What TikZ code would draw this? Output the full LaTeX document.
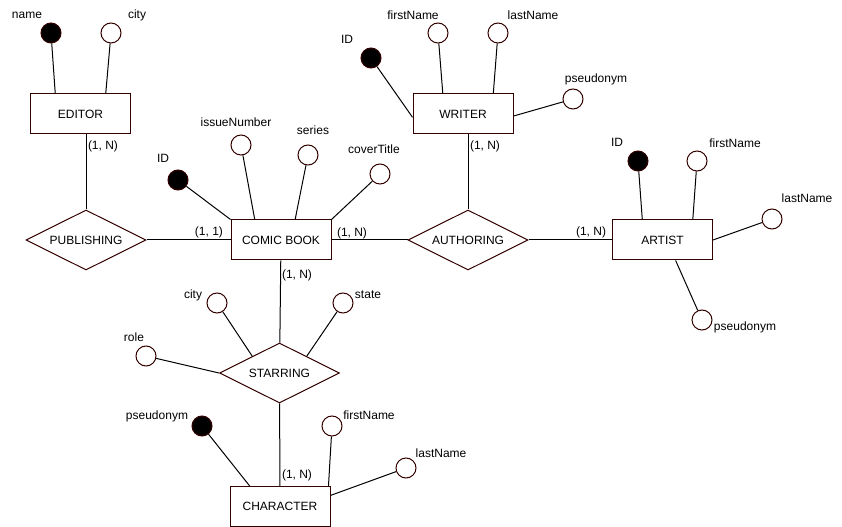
\documentclass[tikz,border=0pt]{standalone}
\usepackage{fontspec}
\setmainfont{Liberation Sans}
\usetikzlibrary{shapes.geometric, calc}
\definecolor{erbrown}{HTML}{330000}

\begin{document}
\begin{tikzpicture}[
    x=0.75pt, y=-0.75pt,
    font=\fontsize{9}{11}\selectfont,
    entity/.style={draw=erbrown, fill=white, line width=0.75pt, minimum width=75pt, minimum height=30pt, inner sep=0pt},
    relation/.style={diamond, draw=erbrown, fill=white, line width=0.75pt, aspect=2, minimum width=90pt, minimum height=45pt, inner sep=0pt},
    attr/.style={circle, draw=erbrown, fill=white, line width=0.75pt, minimum size=15pt, inner sep=0pt},
    keyattr/.style={attr, fill=black},
    link/.style={draw=black, line width=0.75pt},
    lbl/.style={inner sep=1pt}
  ]
    \useasboundingbox (0,0) rectangle (842,527);

    % entities and relationships
    \node[entity] (editor)    at (80.5,114) {EDITOR};
    \node[entity] (comic)     at (281,240)  {COMIC BOOK};
    \node[entity] (writer)    at (463,114)  {WRITER};
    \node[entity] (artist)    at (662.5,240) {ARTIST};
    \node[entity] (character) at (280,506.5) {CHARACTER};
    \node[relation] (publishing) at (86,240)   {PUBLISHING};
    \node[relation] (authoring)  at (468,240)  {AUTHORING};
    \node[relation] (starring)   at (279.5,373) {STARRING};

    % ==========================================
    \node[keyattr] (edName) at (51,33) {};
    \node[attr]    (edCity) at (111,33) {};
    \node[lbl] (edNameL) at (27,15)  {name};
    \node[lbl] (edCityL) at (137,15) {city};

    \node[keyattr] (cbId)     at (178,180) {};
    \node[attr]    (cbIssue)  at (241,145) {};
    \node[attr]    (cbSeries) at (308,155) {};
    \node[attr]    (cbCover)  at (380,174) {};
    \node[lbl] (cbIdL)     at (163,158) {ID};
    \node[lbl] (cbIssueL)  at (236,122) {issueNumber};
    \node[lbl] (cbSeriesL) at (313,130) {series};
    \node[lbl] (cbCoverL)  at (374,149) {coverTitle};

    \node[keyattr] (wrId)     at (371,58) {};
    \node[attr]    (wrFirst)  at (438,33) {};
    \node[attr]    (wrLast)   at (498,33) {};
    \node[attr]    (wrPseudo) at (573,99) {};
    \node[lbl] (wrIdL)     at (347,39)  {ID};
    \node[lbl] (wrFirstL)  at (413,15)  {firstName};
    \node[lbl] (wrLastL)   at (533,15)  {lastName};
    \node[lbl] (wrPseudoL) at (596,79)  {pseudonym};

    \node[keyattr] (arId)     at (638,161) {};
    \node[attr]    (arFirst)  at (697,161) {};
    \node[attr]    (arLast)   at (772,219) {};
    \node[attr]    (arPseudo) at (702,320) {};
    \node[lbl] (arIdL)     at (617,142) {ID};
    \node[lbl] (arFirstL)  at (735,143) {firstName};
    \node[lbl] (arLastL)   at (807,198) {lastName};
    \node[lbl] (arPseudoL) at (745,327) {pseudonym};

    \node[attr] (stCity)  at (217,303) {};
    \node[attr] (stState) at (343,303) {};
    \node[attr] (stRole)  at (146,356) {};
    \node[lbl] (stCityL)  at (193,295) {city};
    \node[lbl] (stStateL) at (368,295) {state};
    \node[lbl] (stRoleL)  at (134,337) {role};

    \node[keyattr] (chPseudo) at (202,426) {};
    \node[attr]    (chFirst)  at (332,426) {};
    \node[attr]    (chLast)   at (406,468) {};
    \node[lbl] (chPseudoL) at (157,416) {pseudonym};
    \node[lbl] (chFirstL)  at (369,415) {firstName};
    \node[lbl] (chLastL)   at (441,453) {lastName};

    % ==========================================
    \draw[link] (edName) -- ($(editor.north west)!.25!(editor.north east)$);
    \draw[link] (edCity) -- ($(editor.north west)!.75!(editor.north east)$);
    \draw[link] (cbId) -- (comic.north west);
    \draw[link] (cbIssue) -- ($(comic.north west)!.24!(comic.north east)$);
    \draw[link] (cbSeries) -- ($(comic.north west)!.64!(comic.north east)$);
    \draw[link] (cbCover) -- (comic.north east);
    \draw[link] (wrId) -- ($(writer.north west)!.58!(writer.south west)$);
    \draw[link] (wrFirst) -- ($(writer.north west)!.3!(writer.north east)$);
    \draw[link] (wrLast) -- ($(writer.north west)!.8!(writer.north east)$);
    \draw[link] (wrPseudo) -- ($(writer.north east)!.55!(writer.south east)$);
    \draw[link] (arId) -- ($(artist.north west)!.3!(artist.north east)$);
    \draw[link] (arFirst) -- ($(artist.north west)!.8!(artist.north east)$);
    \draw[link] (arLast) -- (artist.east);
    \draw[link] (arPseudo) -- ($(artist.south west)!.63!(artist.south east)$);
    \draw[link] (stCity) -- ($(starring.west)!.55!(starring.north)$);
    \draw[link] (stState) -- ($(starring.north)!.45!(starring.east)$);
    \draw[link] (stRole) -- (starring.west);
    \draw[link] (chPseudo) -- ($(character.north west)!.2!(character.north east)$);
    \draw[link] (chFirst) -- ($(character.north west)!.98!(character.north east)$);
    \draw[link] (chLast) -- ($(character.north east)!.23!(character.south east)$);

    % ==========================================
    \draw[link] (publishing.north) -- (publishing.north |- editor.south);
    \draw[link] (publishing) -- (comic);
    \draw[link] (comic) -- (authoring);
    \draw[link] (authoring) -- (artist);
    \draw[link] (authoring.north) -- (authoring.north |- writer.south);
    \draw[link] (comic) -- (starring);
    \draw[link] (starring) -- (character);

    \node[lbl] (cEditor)    at (103,146) {(1, N)};
    \node[lbl] (cPublish)   at (209,232) {(1, 1)};
    \node[lbl] (cComic)     at (352,233) {(1, N)};
    \node[lbl] (cWriter)    at (485,146) {(1, N)};
    \node[lbl] (cArtist)    at (591,232) {(1, N)};
    \node[lbl] (cStarTop)   at (297,275) {(1, N)};
    \node[lbl] (cCharacter) at (297,475) {(1, N)};

  \end{tikzpicture}
\end{document}
